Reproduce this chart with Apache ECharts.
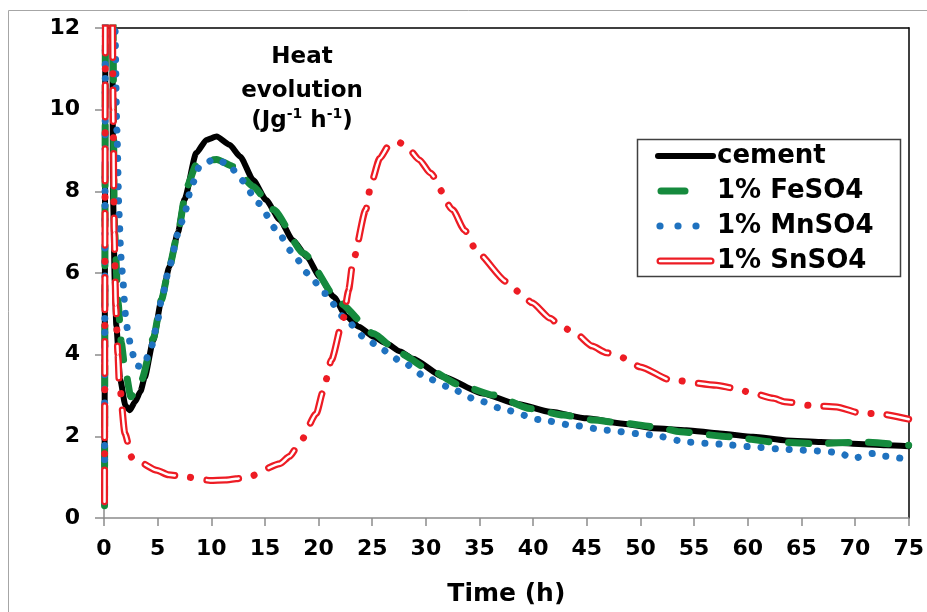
<!DOCTYPE html>
<html>
<head>
<meta charset="utf-8">
<script src="https://cdn.jsdelivr.net/npm/echarts@6/dist/echarts.min.js"></script>
<style>
  html, body { margin: 0; padding: 0; background: #fff; }
  #chart { width: 927px; height: 612px; }
</style>
</head>
<body>
<div id="chart"></div>
<script>
// heat evolution (J/g/h) against time (h)
const cement = [
  [0.05, 0.5], [0.15, 14], [0.75, 14], [0.85, 7.8], [1.0, 5.8], [1.15, 4.7], [1.5, 3.4],
  [2.0, 2.75], [2.4, 2.64], [2.9, 2.85], [3.4, 3.1], [3.8, 3.45], [4.6, 4.36], [5.35, 5.34],
  [6.1, 6.16], [6.9, 7.0], [7.5, 7.8], [8.6, 8.94], [9.55, 9.26], [10.5, 9.34], [11.7, 9.14],
  [12.7, 8.85], [13.9, 8.28], [15.1, 7.79], [16.4, 7.3], [17.6, 6.8], [18.9, 6.4], [20.1, 5.91],
  [21.4, 5.42], [22.6, 4.93], [23.8, 4.68], [25.1, 4.44], [26.3, 4.28], [27.6, 4.08], [28.8, 3.9],
  [31.6, 3.46], [35.3, 3.05], [38.4, 2.8], [41.6, 2.6], [45.0, 2.44], [48.4, 2.31], [51.2, 2.2],
  [54.3, 2.15], [57.4, 2.07], [60.5, 1.99], [63.6, 1.9], [66.8, 1.86], [69.8, 1.82], [72.9, 1.78],
  [75, 1.76]
]
const feSO4 = [
  [0.05, 0.3], [0.15, 14], [0.8, 14], [0.95, 7.5], [1.0, 6.97], [1.3, 5.3], [1.62, 4.28],
  [1.93, 3.7], [2.5, 2.97], [3.5, 3.38], [4.6, 4.4], [5.35, 5.34], [6.1, 6.16], [6.9, 7.0],
  [7.7, 8.1], [8.6, 8.65], [9.5, 8.75], [10.5, 8.78], [12.05, 8.61], [13.9, 8.12], [15.8, 7.55],
  [18.6, 6.48], [22.0, 5.26], [25.1, 4.52], [27.6, 4.03], [30.4, 3.62], [33.2, 3.25], [36.3, 3.01],
  [39.7, 2.68], [42.8, 2.52], [45.6, 2.4], [48.1, 2.33], [51.5, 2.23], [53.7, 2.11], [58.3, 1.99],
  [62.4, 1.86], [66.4, 1.82], [70.5, 1.86], [75, 1.78]
]
const mnSO4 = [
  [0.05, 0.4], [0.15, 14], [0.9, 14], [1.0, 12.3], [1.2, 9.5], [1.39, 7.55], [1.46, 7.1],
  [1.53, 6.65], [1.62, 6.24], [1.77, 5.83], [1.87, 5.38], [2.0, 4.97], [2.24, 4.52], [2.56, 4.11],
  [3.0, 3.73], [3.6, 3.7], [4.3, 4.07], [4.9, 4.68], [5.35, 5.34], [6.1, 6.15], [6.9, 6.97],
  [7.4, 7.35], [8.2, 8.16], [8.9, 8.61], [10.3, 8.79], [11.6, 8.67], [12.8, 8.28], [14.4, 7.71],
  [16.1, 7.05], [17.5, 6.52], [19.0, 5.99], [20.6, 5.5], [22.3, 4.93], [24.2, 4.44], [26.0, 4.11],
  [27.8, 3.82], [30.2, 3.42], [32.1, 3.21], [34.4, 2.93], [37.5, 2.64], [40.6, 2.41], [43.7, 2.27],
  [46.9, 2.15], [50.0, 2.06], [51.2, 2.03], [54.3, 1.86], [57.4, 1.81], [60.5, 1.74], [63.6, 1.68],
  [66.8, 1.64], [68.5, 1.6], [69.8, 1.46], [71.7, 1.58], [72.9, 1.51], [75, 1.43]
]
const snSO4 = [
  [0.05, 0.4], [0.15, 14], [0.75, 14], [0.85, 10], [0.95, 7.0], [1.1, 5.2], [1.3, 4.0],
  [1.4, 3.4], [1.95, 2.07], [2.6, 1.48], [3.3, 1.37], [4.9, 1.17], [6.0, 1.06], [7.8, 1.0],
  [9.9, 0.92], [11.3, 0.93], [13.3, 0.99], [16.4, 1.33], [17.3, 1.51], [18.2, 1.82], [19.8, 2.56],
  [20.4, 3.09], [21.2, 3.87], [22.3, 4.89], [22.8, 5.58], [23.2, 6.28], [24.4, 7.55], [24.9, 8.2],
  [25.7, 8.81], [26.6, 9.14], [27.5, 9.2], [28.2, 9.1], [29.4, 8.77], [30.4, 8.45], [32.5, 7.55],
  [33.6, 7.05], [34.8, 6.5], [37.5, 5.79], [38.7, 5.53], [39.9, 5.27], [41.6, 4.89], [42.6, 4.68],
  [43.8, 4.56], [45.5, 4.21], [46.8, 4.05], [48.1, 3.95], [50.0, 3.7], [52.8, 3.38], [57.1, 3.25],
  [58.9, 3.17], [60.0, 3.09], [62.4, 2.93], [63.4, 2.85], [66.0, 2.75], [68.3, 2.72], [70.3, 2.58],
  [72.6, 2.54], [75, 2.42]
]

const legendNames = ['cement', '1% FeSO4', '1% MnSO4', '1% SnSO4']
const noteLines = ['Heat', 'evolution']
const xRange = [0, 75, 5]
const yRange = [0, 12, 2]

const FONT = 'DejaVu Sans'
const GREEN = '#158a3d'
const BLUE = '#1f72bf'
const RED = '#ed1c24'

const chart = echarts.init(document.getElementById('chart'), null, { renderer: 'canvas' })

const lineSeries = (name, data, lineStyle) => ({
  name,
  type: 'line',
  data,
  symbol: 'none',
  smooth: 0.2,
  smoothMonotone: 'x',
  clip: true,
  lineStyle,
  emphasis: { disabled: true },
  animation: false
})

const labelFont = { fontFamily: FONT, fontWeight: 'bold', color: '#000' }

const legendRows = [156, 191, 226, 261]
const legendItems = [
  { type: 'line', shape: { x1: 658, y1: legendRows[0], x2: 713, y2: legendRows[0] },
    style: { stroke: '#000', lineWidth: 6, lineCap: 'round' } },
  { type: 'line', shape: { x1: 661, y1: legendRows[1], x2: 685, y2: legendRows[1] },
    style: { stroke: GREEN, lineWidth: 7, lineCap: 'round' } },
  ...[660, 678, 696].map(x => ({ type: 'circle', shape: { cx: x, cy: legendRows[2], r: 3.6 }, style: { fill: BLUE } })),
  { type: 'line', shape: { x1: 660, y1: legendRows[3], x2: 711, y2: legendRows[3] },
    style: { stroke: RED, lineWidth: 7, lineCap: 'round' } },
  { type: 'line', shape: { x1: 660, y1: legendRows[3], x2: 711, y2: legendRows[3] },
    style: { stroke: '#fff', lineWidth: 2.5, lineCap: 'round' } },
  ...legendNames.map((name, i) => ({
    type: 'text',
    style: { text: name, x: 717, y: legendRows[i], verticalAlign: 'middle', fill: '#000',
      font: `bold 26px "${FONT}"` }
  }))
]

const option = {
  animation: false,
  grid: { left: 104, right: 18, top: 28, bottom: 94 },
  xAxis: [
    {
      type: 'value', min: xRange[0], max: xRange[1], interval: xRange[2],
      axisLine: { onZero: false, lineStyle: { color: '#8c8c8c', width: 1.5 } },
      axisTick: { show: true, length: 8, lineStyle: { color: '#8c8c8c', width: 1.5 } },
      axisLabel: { ...labelFont, fontSize: 22, margin: 20 },
      splitLine: { show: false },
      name: 'Time (h)', nameLocation: 'middle', nameGap: 64,
      nameTextStyle: { ...labelFont, fontSize: 25 }
    },
    {
      type: 'value', position: 'top', min: xRange[0], max: xRange[1],
      axisLine: { show: true, onZero: false, lineStyle: { color: '#000', width: 1.5 } },
      axisTick: { show: false }, axisLabel: { show: false }, splitLine: { show: false }
    }
  ],
  yAxis: [
    {
      type: 'value', min: yRange[0], max: yRange[1], interval: yRange[2],
      axisLine: { show: true, onZero: false, lineStyle: { color: '#8c8c8c', width: 1.5 } },
      axisTick: { show: true, length: 9, lineStyle: { color: '#8c8c8c', width: 1.5 } },
      axisLabel: { ...labelFont, fontSize: 22, margin: 24 },
      splitLine: { show: false }
    },
    {
      type: 'value', position: 'right', min: yRange[0], max: yRange[1],
      axisLine: { show: true, onZero: false, lineStyle: { color: '#404040', width: 2 } },
      axisTick: { show: false }, axisLabel: { show: false }, splitLine: { show: false }
    }
  ],
  series: [
    lineSeries('cement', cement, { color: '#000', width: 6, cap: 'round', join: 'round' }),
    lineSeries('1% FeSO4', feSO4, { color: GREEN, width: 7, type: [20, 20], cap: 'round', join: 'round' }),
    lineSeries('1% MnSO4', mnSO4, { color: BLUE, width: 7, type: [0.1, 14], cap: 'round', join: 'round' }),
    lineSeries('1% SnSO4', snSO4, { color: RED, width: 7, type: [32, 16, 0.1, 16], cap: 'round', join: 'round' }),
    lineSeries('1% SnSO4 inner', snSO4, { color: '#fff', width: 2.5, type: [32, 32.1], cap: 'round', join: 'round' })
  ],
  graphic: [
    {
      type: 'rect', silent: true, z: -10,
      shape: { x: 8.5, y: 10.5, width: 940, height: 640 },
      style: { fill: 'none', stroke: '#a6a6a6', lineWidth: 1 }
    },
    ...noteLines.map((t, i) => ({
      type: 'text', silent: true, z: 50,
      style: { text: t, x: 302, y: 57 + i * 34, align: 'center', verticalAlign: 'middle',
        fill: '#000', font: `bold 23px "${FONT}"` }
    })),
    {
      type: 'text', silent: true, z: 50,
      style: {
        text: '{b|(Jg}{s|-1}{b| h}{s|-1}{b|)}', x: 302, y: 121, align: 'center', verticalAlign: 'middle',
        rich: {
          b: { fontFamily: FONT, fontWeight: 'bold', fontSize: 23, color: '#000', lineHeight: 28 },
          s: { fontFamily: FONT, fontWeight: 'bold', fontSize: 14, color: '#000', verticalAlign: 'top', lineHeight: 16 }
        }
      }
    },
    {
      type: 'group', silent: true, z: 60,
      children: [
        { type: 'rect', shape: { x: 637.5, y: 139.5, width: 263, height: 137 },
          style: { fill: '#fff', stroke: '#404040', lineWidth: 1.5 } },
        ...legendItems
      ]
    }
  ]
}

chart.setOption(option)
</script>
</body>
</html>
